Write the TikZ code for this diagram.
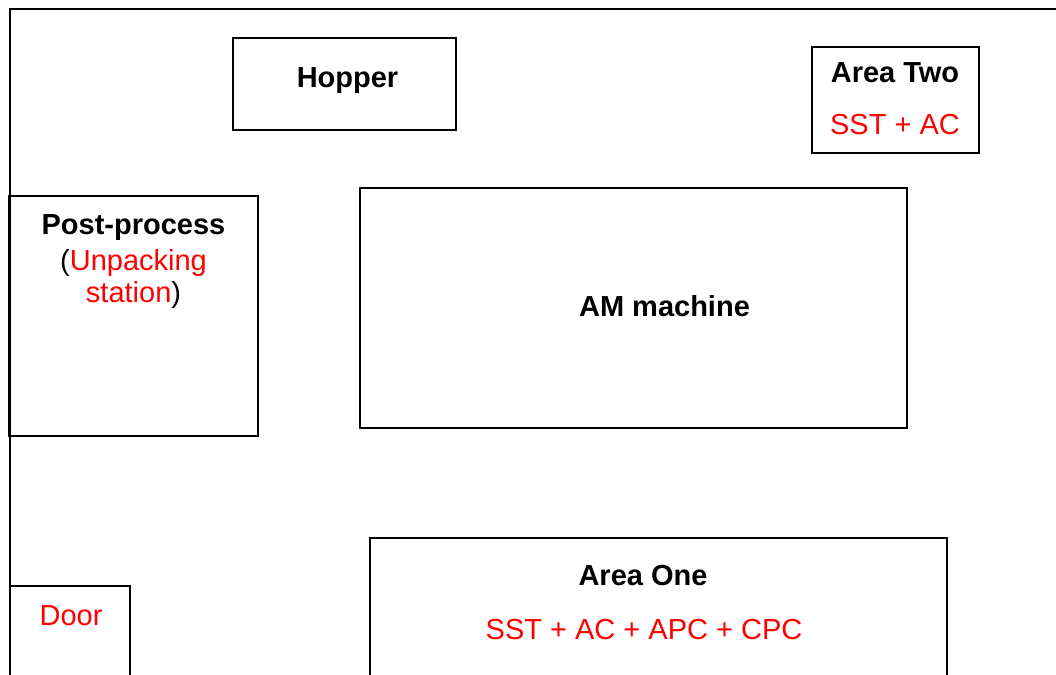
\documentclass[tikz,border=0pt]{standalone}
\usepackage{fontspec}
\setmainfont{Liberation Sans}
\begin{document}
\begin{tikzpicture}[x=1pt,y=-1pt,
  box/.style={draw,line width=2.2pt,rectangle,inner sep=0pt},
  blbl/.style={font=\fontsize{29}{34}\selectfont\bfseries,anchor=base,inner sep=0pt},
  rlbl/.style={font=\fontsize{29}{34}\selectfont,text=red,anchor=base,inner sep=0pt},
  klbl/.style={font=\fontsize{29}{34}\selectfont,anchor=base,inner sep=0pt}]
\useasboundingbox (0,0) rectangle (1056,674);
\clip (0,0) rectangle (1056,674);
% walls
\coordinate (wallTL) at (10,9);
\coordinate (wallTR) at (1062,9);
\coordinate (wallBL) at (10,690);
\draw[line width=2.6pt] (wallBL) -- (wallTL) -- (wallTR);
% boxes
\node[box,minimum width=223pt,minimum height=92pt] (hopper) at (344.5,84) {};
\node[box,minimum width=167pt,minimum height=106pt] (areatwo) at (895.5,100) {};
\node[box,minimum width=249pt,minimum height=240pt] (post) at (133.5,316) {};
\node[box,minimum width=547pt,minimum height=240pt] (am) at (633.5,308) {};
\node[box,minimum width=577pt,minimum height=170pt] (areaone) at (658.5,623) {};
\node[box,minimum width=120pt,minimum height=120pt] (door) at (70,646) {};
% labels
\node[blbl] (hopperT) at (347.5,88) {Hopper};
\node[blbl] (areatwoT) at (895,83) {Area Two};
\node[rlbl] (areatwoS) at (895,134) {SST + AC};
\node[blbl] (postT) at (133.5,234) {Post-process};
\node[klbl] (postU) at (133.5,270) {(\textcolor{red}{Unpacking}};
\node[klbl] (postS) at (133.5,302) {\textcolor{red}{station})};
\node[blbl] (amT) at (664.5,316) {AM machine};
\node[blbl] (areaoneT) at (643,585) {Area One};
\node[rlbl] (areaoneS) at (644,639) {SST + AC + APC + CPC};
\node[rlbl] (doorT) at (71,625) {Door};
\end{tikzpicture}
\end{document}
